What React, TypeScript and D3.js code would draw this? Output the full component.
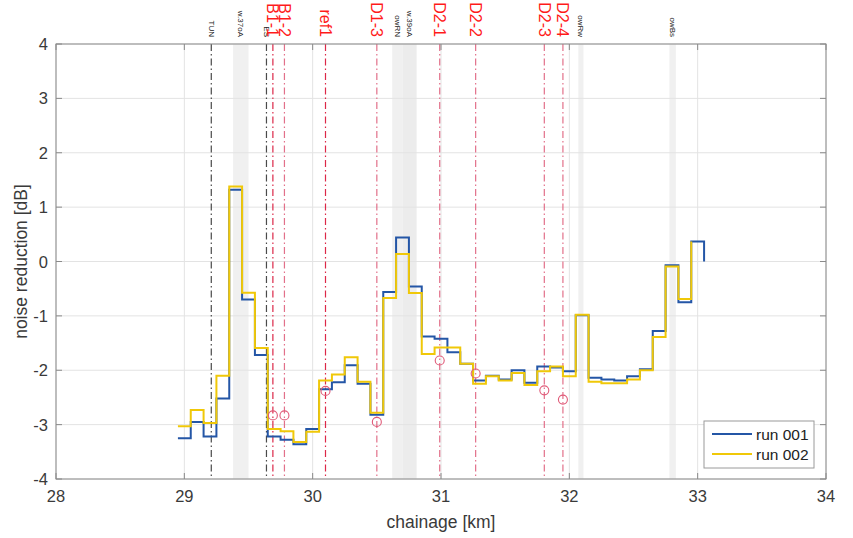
import React from "react";
import * as d3 from "d3";

// ---------- data ----------
const chainage001 = [28.95, 29.05, 29.15, 29.25, 29.35, 29.45, 29.55, 29.65, 29.75, 29.85, 29.95, 30.05, 30.15, 30.25, 30.35, 30.45, 30.55, 30.65, 30.75, 30.85, 30.95, 31.05, 31.15, 31.25, 31.35, 31.45, 31.55, 31.65, 31.75, 31.85, 31.95, 32.05, 32.15, 32.25, 32.35, 32.45, 32.55, 32.65, 32.75, 32.85, 32.95, 33.05];
const run001 = [-3.25, -2.95, -3.22, -2.52, 1.32, -0.70, -1.72, -3.22, -3.28, -3.36, -3.08, -2.35, -2.22, -1.91, -2.25, -2.82, -0.56, 0.44, -0.46, -1.38, -1.42, -1.67, -1.88, -2.19, -2.10, -2.17, -2.00, -2.23, -1.93, -1.95, -2.02, -0.99, -2.14, -2.17, -2.19, -2.11, -1.98, -1.28, -0.07, -0.75, 0.37, 0.0];

const chainage002 = [28.95, 29.05, 29.15, 29.25, 29.35, 29.45, 29.55, 29.65, 29.75, 29.85, 29.95, 30.05, 30.15, 30.25, 30.35, 30.45, 30.55, 30.65, 30.75, 30.85, 30.95, 31.05, 31.15, 31.25, 31.35, 31.45, 31.55, 31.65, 31.75, 31.85, 31.95, 32.05, 32.15, 32.25, 32.35, 32.45, 32.55, 32.65, 32.75, 32.85, 32.95];
const run002 = [-3.03, -2.73, -2.97, -2.10, 1.38, -0.575, -1.59, -3.08, -3.12, -3.32, -3.13, -2.19, -2.08, -1.76, -2.21, -2.78, -0.67, 0.14, -0.58, -1.70, -1.58, -1.58, -1.88, -2.25, -2.11, -2.19, -2.05, -2.27, -2.02, -1.93, -2.11, -0.98, -2.21, -2.24, -2.24, -2.17, -2.00, -1.39, -0.09, -0.69, 0.37];

// structure lines (black dash-dot)
const structNames = ["TUN", "ES"];
const structKm = [29.21, 29.64];

// measurement positions (red dash-dot with circles)
const siteNames = ["B1-1", "B1-2", "ref1", "D1-3", "D2-1", "D2-2", "D2-3", "D2-4"];
const siteKm = [29.69, 29.78, 30.1, 30.5, 30.99, 31.27, 31.805, 31.95];
const siteValues = [-2.83, -2.83, -2.38, -2.95, -1.82, -2.06, -2.37, -2.54];
const siteLight = [false, true, false, true, true, true, true, true];

// shaded zones
const zoneNames = ["w.37oA", "owRN", "w.39oA", "owRw", "owBs"];
const zoneStart = [29.38, 30.62, 30.70, 32.07, 32.78];
const zoneEnd = [29.5, 30.70, 30.81, 32.11, 32.83];

const xTicks = [28, 29, 30, 31, 32, 33, 34];
const yTicks = [-4, -3, -2, -1, 0, 1, 2, 3, 4];

const seriesNames = ["run 001", "run 002"];

// ---------- layout ----------
const W = 853;
const H = 538;
const L = 56, R = 826, T = 44, B = 479;
const FONT = "'Liberation Sans', Arial, Helvetica, sans-serif";
const BLUE = "#2456a6";
const YELLOW = "#f0c808";
const AXIS = "#8a8a8a";
const TXT = "#3a3a3a";
const DASHDOT = "7,3,1.5,3";

export default function App() {
  const x = d3.scaleLinear().domain([28, 34]).range([L, R]);
  const y = d3.scaleLinear().domain([-4, 4]).range([B, T]);

  const line = d3
    .line<[number, number]>()
    .x((d) => x(d[0]))
    .y((d) => y(d[1]))
    .curve(d3.curveStepAfter);

  const d001 = line(chainage001.map((c, i) => [c, run001[i]] as [number, number])) || "";
  const d002 = line(chainage002.map((c, i) => [c, run002[i]] as [number, number])) || "";

  const labelY = 37;

  return (
    <svg
      width={W}
      height={H}
      style={{ position: "absolute", left: 0, top: 0, background: "#fff" }}
      fontFamily={FONT}
    >
      <rect x={0} y={0} width={W} height={H} fill="#fff" />
      {/* zones */}
      {zoneNames.map((n, i) => (
        <rect
          key={"z" + n}
          x={x(zoneStart[i])}
          y={T}
          width={x(zoneEnd[i]) - x(zoneStart[i])}
          height={B - T}
          fill={i === 2 ? "#ececec" : "#f0f0f0"}
        />
      ))}
      {/* grid */}
      {xTicks.map((t) => (
        <line key={"gx" + t} x1={x(t)} x2={x(t)} y1={T} y2={B} stroke="#e3e3e3" strokeWidth={1} />
      ))}
      {yTicks.map((t) => (
        <line key={"gy" + t} x1={L} x2={R} y1={y(t)} y2={y(t)} stroke="#e3e3e3" strokeWidth={1} />
      ))}
      {/* structure lines */}
      {structNames.map((n, i) => (
        <line
          key={"s" + n}
          x1={x(structKm[i])}
          x2={x(structKm[i])}
          y1={T}
          y2={B}
          stroke="#4a4a4a"
          strokeWidth={1.2}
          strokeDasharray={DASHDOT}
        />
      ))}
      {/* site lines */}
      {siteNames.map((n, i) => (
        <line
          key={"l" + n}
          x1={x(siteKm[i])}
          x2={x(siteKm[i])}
          y1={T}
          y2={B}
          stroke={siteLight[i] ? "#e2708a" : "#dc2848"}
          strokeWidth={1.2}
          strokeDasharray={DASHDOT}
        />
      ))}
      {/* series */}
      <path d={d001} fill="none" stroke={BLUE} strokeWidth={2} />
      <path d={d002} fill="none" stroke={YELLOW} strokeWidth={2} />
      {/* circles */}
      {siteNames.map((n, i) => (
        <circle
          key={"c" + n}
          cx={x(siteKm[i])}
          cy={y(siteValues[i])}
          r={4.5}
          fill="none"
          stroke="#e05a78"
          strokeWidth={1.1}
        />
      ))}
      {/* axes box */}
      <rect x={L} y={T} width={R - L} height={B - T} fill="none" stroke={AXIS} strokeWidth={1} />
      {xTicks.map((t) => (
        <g key={"tx" + t}>
          <line x1={x(t)} x2={x(t)} y1={B} y2={B - 6} stroke={AXIS} />
          <line x1={x(t)} x2={x(t)} y1={T} y2={T + 6} stroke={AXIS} />
          <text x={x(t)} y={B + 23} textAnchor="middle" fontSize={16.5} fill={TXT}>
            {t}
          </text>
        </g>
      ))}
      {yTicks.map((t) => (
        <g key={"ty" + t}>
          <line x1={L} x2={L + 6} y1={y(t)} y2={y(t)} stroke={AXIS} />
          <line x1={R} x2={R - 6} y1={y(t)} y2={y(t)} stroke={AXIS} />
          <text x={L - 8} y={y(t) + 6} textAnchor="end" fontSize={16.5} fill={TXT}>
            {t}
          </text>
        </g>
      ))}
      {/* axis titles */}
      <text x={(L + R) / 2} y={528} textAnchor="middle" fontSize={17.5} fill={TXT}>
        chainage [km]
      </text>
      <text
        transform={`translate(27,${(T + B) / 2}) rotate(-90)`}
        textAnchor="middle"
        fontSize={17.5}
        fill={TXT}
      >
        noise reduction [dB]
      </text>
      {/* top labels */}
      {structNames.map((n, i) => (
        <text
          key={"st" + n}
          transform={`translate(${x(structKm[i])},${labelY}) rotate(90)`}
          textAnchor="end"
          dominantBaseline="central"
          fontSize={8}
          fill="#222"
        >
          {n}
        </text>
      ))}
      {zoneNames.map((n, i) => (
        <text
          key={"zt" + n}
          transform={`translate(${x((zoneStart[i] + zoneEnd[i]) / 2)},${labelY}) rotate(90)`}
          textAnchor="end"
          dominantBaseline="central"
          fontSize={8}
          fill="#222"
        >
          {n}
        </text>
      ))}
      {siteNames.map((n, i) => (
        <text
          key={"sl" + n}
          transform={`translate(${x(siteKm[i])},${labelY}) rotate(90)`}
          textAnchor="end"
          dominantBaseline="central"
          fontSize={16}
          fill="#ff1a1a"
        >
          {n}
        </text>
      ))}
      {/* legend */}
      <g>
        <rect x={704} y={421} width={110} height={47} fill="#fff" stroke="#9a9a9a" strokeWidth={1} />
        {seriesNames.map((n, i) => (
          <g key={"lg" + n}>
            <line
              x1={712}
              x2={752}
              y1={434 + i * 20}
              y2={434 + i * 20}
              stroke={i === 0 ? BLUE : YELLOW}
              strokeWidth={2}
            />
            <text x={756} y={439.5 + i * 20} fontSize={15.5} fill="#222">
              {n}
            </text>
          </g>
        ))}
      </g>
    </svg>
  );
}
